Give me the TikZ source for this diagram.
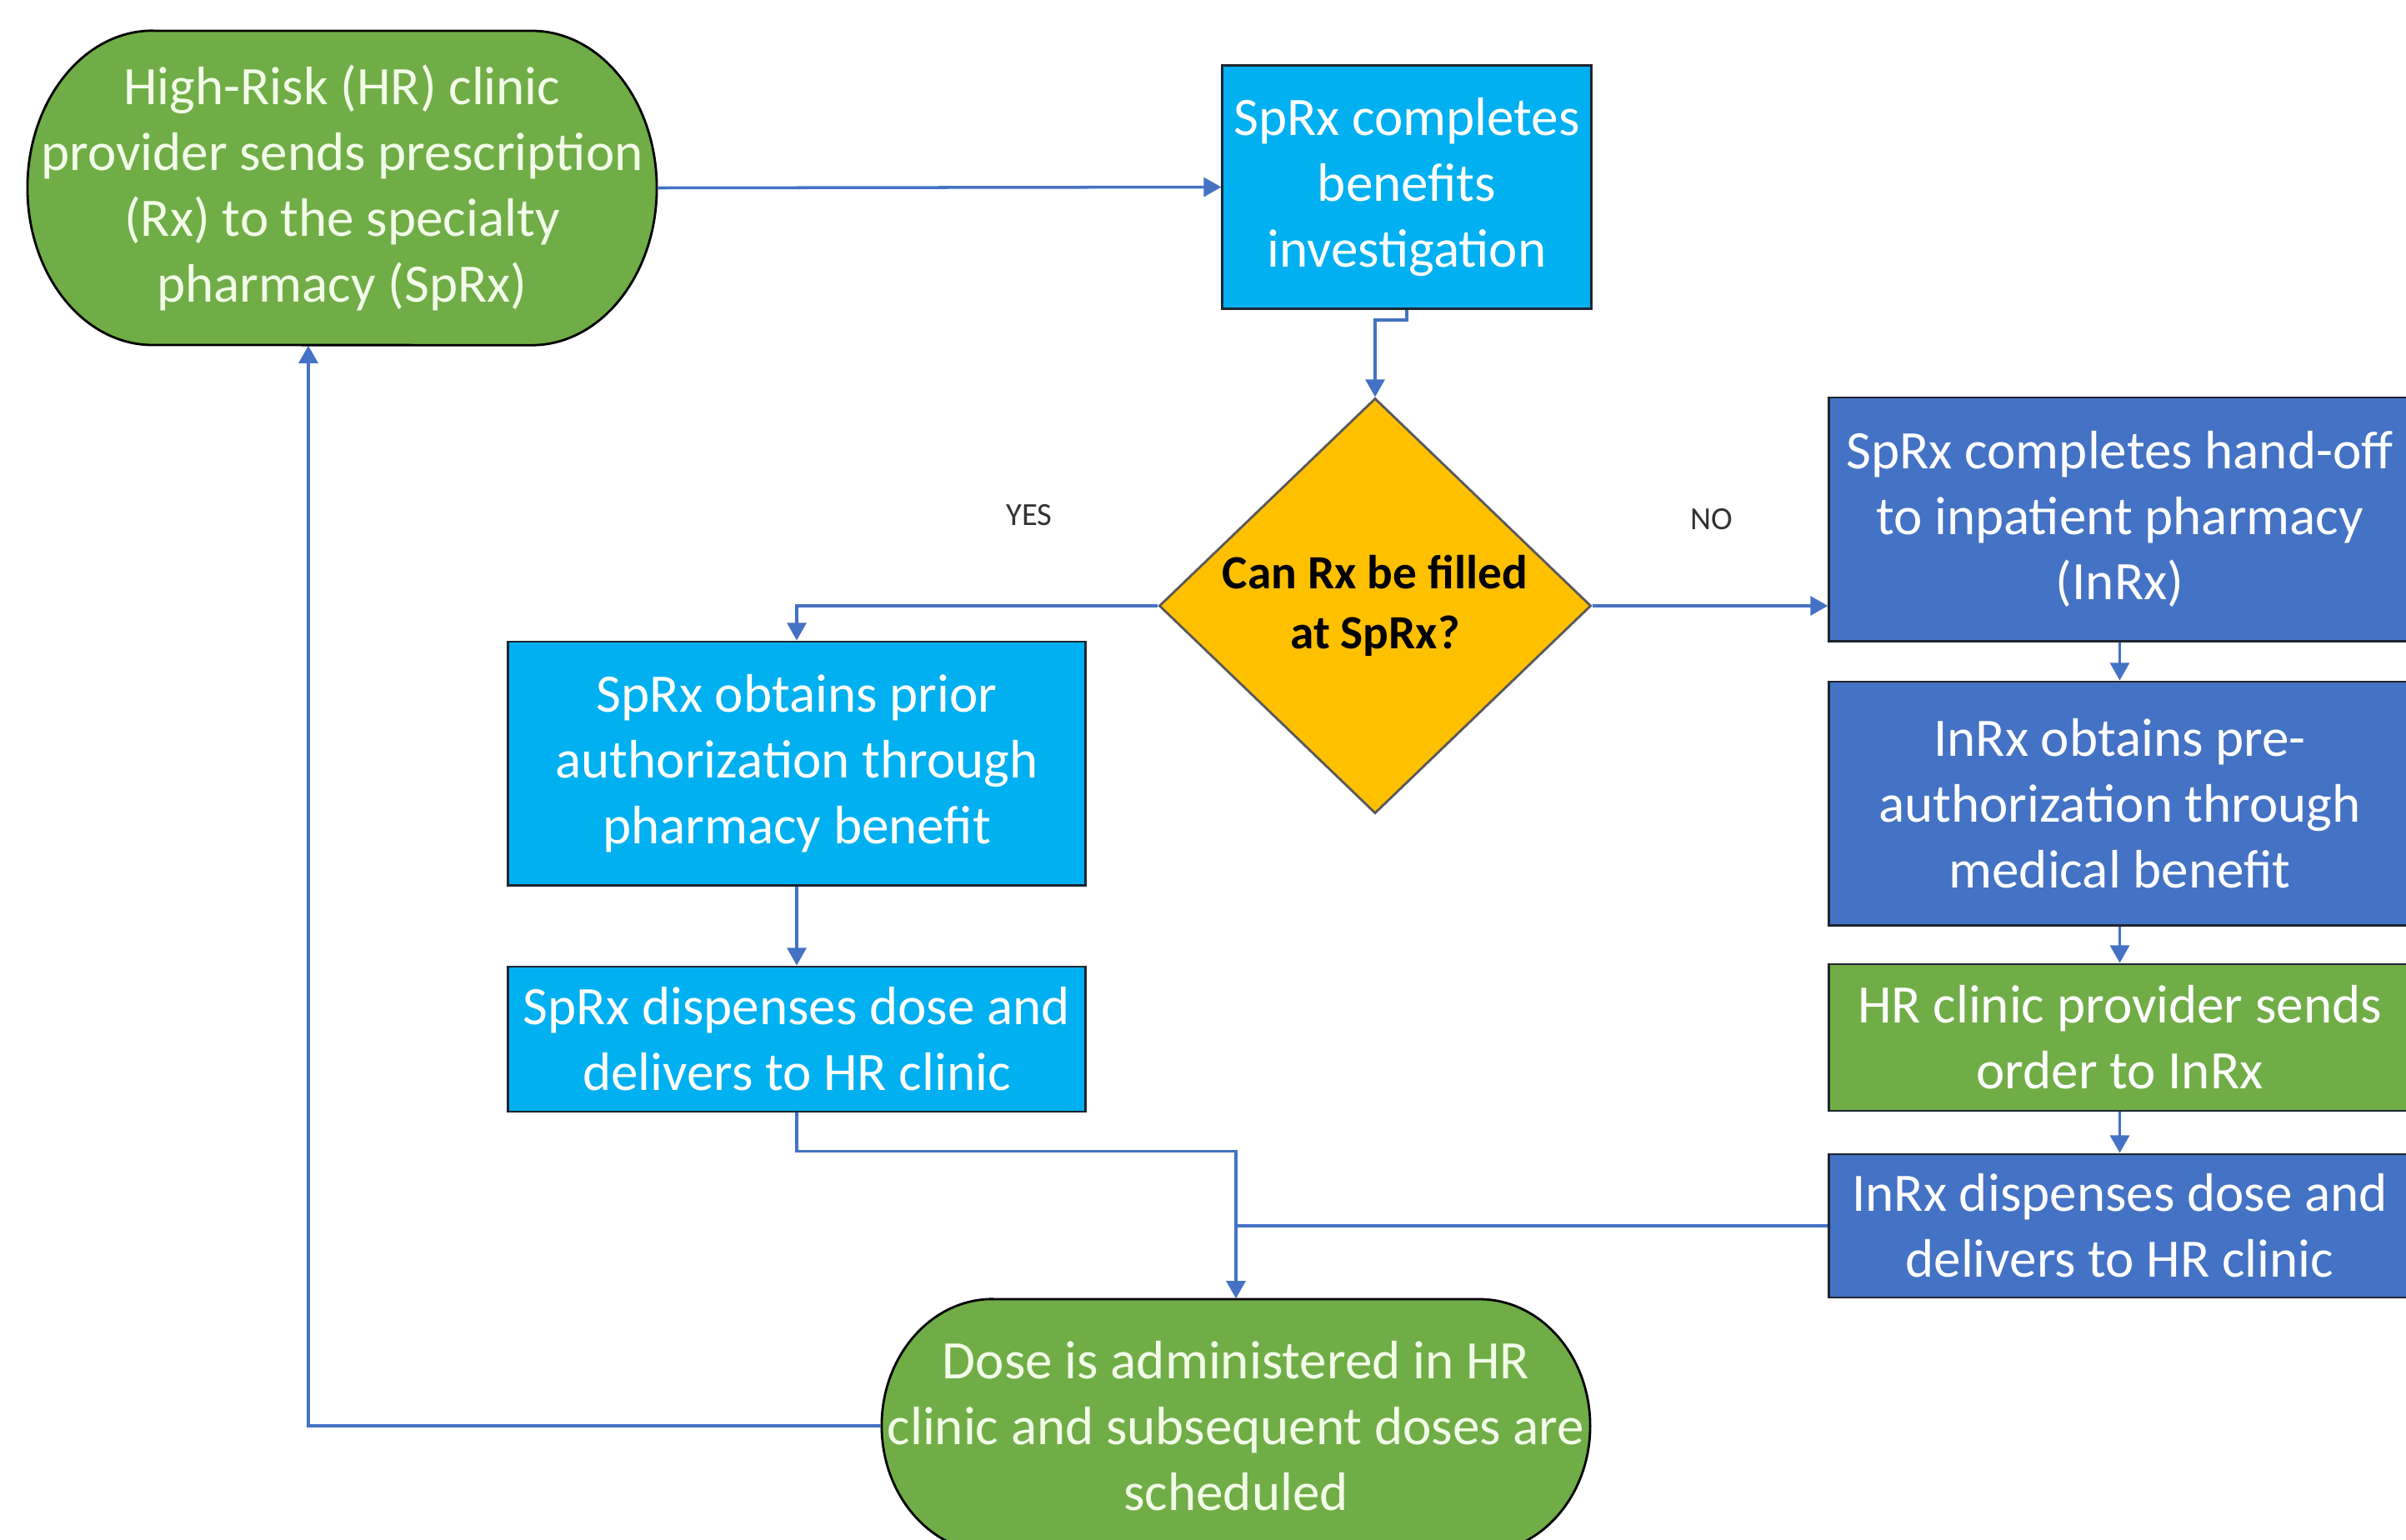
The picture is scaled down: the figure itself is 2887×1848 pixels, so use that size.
\documentclass[tikz,border=0pt]{standalone}
\usepackage{fontspec}
\setmainfont{Carlito}
\usetikzlibrary{shapes.geometric,arrows.meta,calc}
\definecolor{cgreen}{HTML}{70AD47}
\definecolor{ccyan}{HTML}{00B0F0}
\definecolor{cblue}{HTML}{4472C4}
\definecolor{cyellow}{HTML}{FFC000}
\definecolor{cline}{HTML}{4472C4}
\definecolor{coutline}{HTML}{1E2530}
\definecolor{paletext}{HTML}{F2FCE8}
\tikzset{
  boxstyle/.style={rectangle, draw=coutline, line width=0.8pt, inner sep=0pt, align=center,
    text=white, font=\fontsize{18.5}{22.4}\selectfont},
  cyanbox/.style={boxstyle, fill=ccyan},
  bluebox/.style={boxstyle, fill=cblue},
  greenbox/.style={boxstyle, fill=cgreen},
  stadfill/.style={draw=black, line width=0.8pt, fill=cgreen},
  stadtext/.style={rectangle, inner sep=0pt, align=center, text=paletext, font=\fontsize{18.5}{22.4}\selectfont},
  decision/.style={diamond, draw=black!65, line width=0.8pt, fill=cyellow, inner sep=0pt, align=center,
    font=\bfseries\fontsize{16.3}{20.5}\selectfont},
  conn/.style={draw=cline, line width=1pt, -{Triangle[length=6pt,width=6.5pt]}},
  plainconn/.style={draw=cline, line width=1pt},
  lbl/.style={font=\fontsize{11}{13}\selectfont, text=black!80, inner sep=0pt}
}
\begin{document}
\begin{tikzpicture}[x=0.01cm,y=-0.01cm]
\useasboundingbox (0,0) rectangle (2887,1848);

% Stadium A
\path[stadfill] (183,37) -- (638,37) arc[start angle=90,end angle=-90,x radius=1.5cm,y radius=1.885cm]
  -- (183,414) arc[start angle=270,end angle=90,x radius=1.5cm,y radius=1.885cm] -- cycle;
\node[stadtext, minimum width=7.55cm, minimum height=3.77cm] (A) at (410.5,225.5)
  {High-Risk (HR) clinic\\provider sends prescription\\(Rx) to the specialty\\pharmacy (SpRx)};

% Stadium J
\path[stadfill] (1191,1559) -- (1775,1559) arc[start angle=90,end angle=-90,x radius=1.33cm,y radius=1.52cm]
  -- (1191,1863) arc[start angle=270,end angle=90,x radius=1.33cm,y radius=1.52cm] -- cycle;
\node[stadtext, minimum width=8.5cm, minimum height=3.04cm] (J) at (1483,1711)
  {Dose is administered in HR\\clinic and subsequent doses are\\scheduled};

% Boxes
\node[cyanbox, minimum width=4.42cm, minimum height=2.92cm] (B) at (1688,224.5)
  {SpRx completes\\benefits\\investigation};
\node[decision, minimum width=5.18cm, minimum height=4.98cm] (C) at (1650,727)
  {Can Rx be filled\\at SpRx?};
\node[cyanbox, minimum width=6.93cm, minimum height=2.92cm] (D) at (956,916)
  {SpRx obtains prior\\authorization through\\pharmacy benefit};
\node[cyanbox, minimum width=6.93cm, minimum height=1.74cm] (E) at (956,1247)
  {SpRx dispenses dose and\\delivers to HR clinic};
\node[bluebox, minimum width=6.97cm, minimum height=2.92cm] (F) at (2543.5,623)
  {SpRx completes hand-off\\to inpatient pharmacy\\(InRx)};
\node[bluebox, minimum width=6.97cm, minimum height=2.92cm] (G) at (2543.5,964)
  {InRx obtains pre-\\authorization through\\medical benefit};
\node[greenbox, minimum width=6.97cm, minimum height=1.76cm] (H) at (2543.5,1245)
  {HR clinic provider sends\\order to InRx};
\node[bluebox, minimum width=6.97cm, minimum height=1.72cm] (I) at (2543.5,1471)
  {InRx dispenses dose and\\delivers to HR clinic};

% Labels
\node[lbl] (yes) at (1235,618) {YES};
\node[lbl] (no) at (2054,623) {NO};

% Connectors
\coordinate (lp) at (370,0);
\draw[conn] (A.east) -- (B.west);
\draw[conn] (B.south) -- ++(0,12) -| (C.north);
\draw[conn] (C.west) -| (D.north);
\draw[conn] (C.east) -- (C.east -| F.west);
\draw[conn] (D.south) -- (E.north);
\draw[conn] (E.south) -- ++(0,46) -| (J.north);
\draw[plainconn] (I.west) -- (I.west -| J.north);
\draw[conn] (F.south) -- (G.north);
\draw[conn] (G.south) -- (H.north);
\draw[conn] (H.south) -- (I.north);
\draw[conn] (J.west) -| (lp |- A.south);
\end{tikzpicture}
\end{document}
